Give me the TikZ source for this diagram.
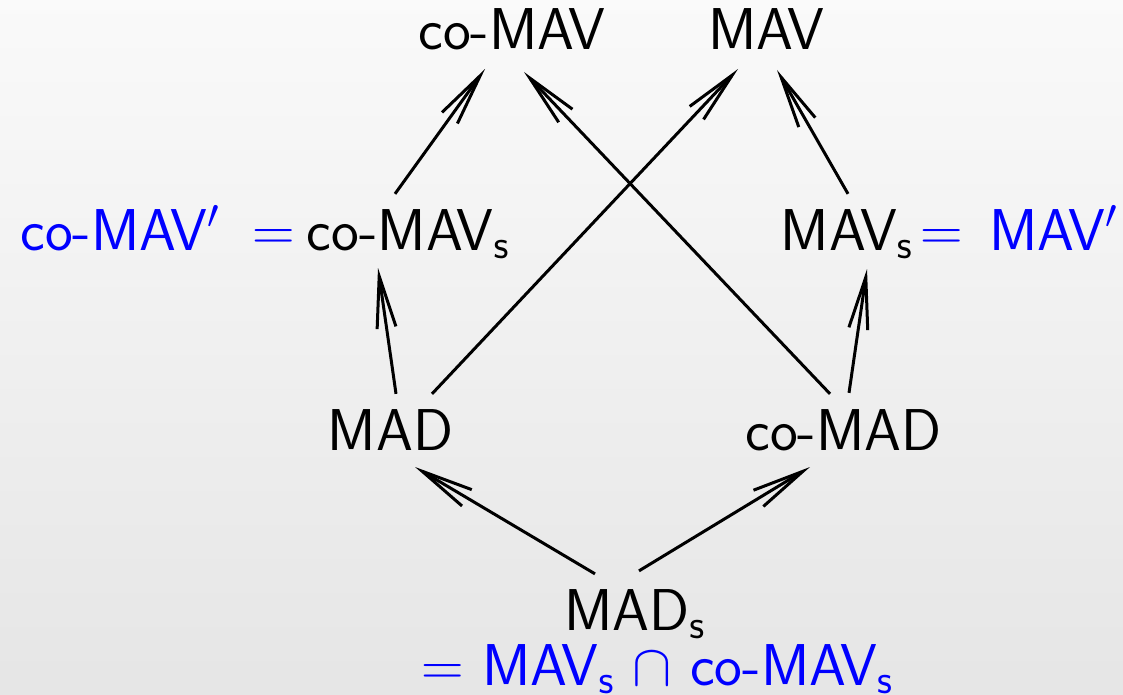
\RequirePackage{fix-cm}
\documentclass[tikz,border=0pt]{standalone}
\usetikzlibrary{arrows.meta,positioning}
\tikzset{
  lbl/.style={inner sep=0pt, anchor=base, font=\fontsize{59}{70}\selectfont\sffamily},
  eqn/.style={lbl, text=blue},
  arr/.style={line width=3pt, -{Straight Barb[length=52pt,width=19pt]}},
}
\begin{document}
\begin{tikzpicture}[x=1pt,y=-1pt]
\useasboundingbox (0,0) rectangle (1123,695);
\shade[top color=black!2, bottom color=black!10] (0,0) rectangle (1123,695);

%top row
\node[lbl] (comav) at (512,50) {co-MAV};
\node[lbl] (mav) at (766,50) {MAV};
%second row
\node[lbl] (comavs) at (408,250) {co-MAV$_\mathsf{s}$};
\node[lbl] (mavs) at (846.5,250) {MAV$_\mathsf{s}$};
\node[eqn, base left=12pt of comavs] (comavsl) {co-MAV$'\;=$};
\node[eqn, base right=8pt of mavs] (mavsr) {$=\;\,$MAV$'$};
%third row
\node[lbl] (mad) at (390.5,450) {MAD};
\node[lbl] (comad) at (843.5,450) {co-MAD};
%bottom
\node[lbl] (mads) at (634.5,630) {MAD$_\mathsf{s}$};
\node[eqn] (madsr) at (657,685) {$=$\ MAV$_\mathsf{s}$\ $\cap$\ co-MAV$_\mathsf{s}$};

%arrows
\draw[arr] ([shift={(-13,-15)}]comavs.north) -- ([shift={(-27,19)}]comav.base);
\draw[arr] ([shift={(-13.5,-15)}]comad.north) -- ([shift={(12,22)}]comav.base);
\draw[arr] ([shift={(41.5,-15)}]mad.north) -- ([shift={(-28,19)}]mav.base);
\draw[arr] ([shift={(1.5,-15)}]mavs.north) -- ([shift={(11,20)}]mav.base);
\draw[arr] ([shift={(5.5,-15)}]mad.north) -- ([shift={(-30,18)}]comavs.base);
\draw[arr] ([shift={(5.5,-16)}]comad.north) -- ([shift={(20.5,19)}]mavs.base);
\draw[arr] ([shift={(-39.5,-15)}]mads.north) -- ([shift={(24.5,17)}]mad.base);
\draw[arr] ([shift={(4.5,-18)}]mads.north) -- ([shift={(-33.5,17)}]comad.base);
\end{tikzpicture}
\end{document}
